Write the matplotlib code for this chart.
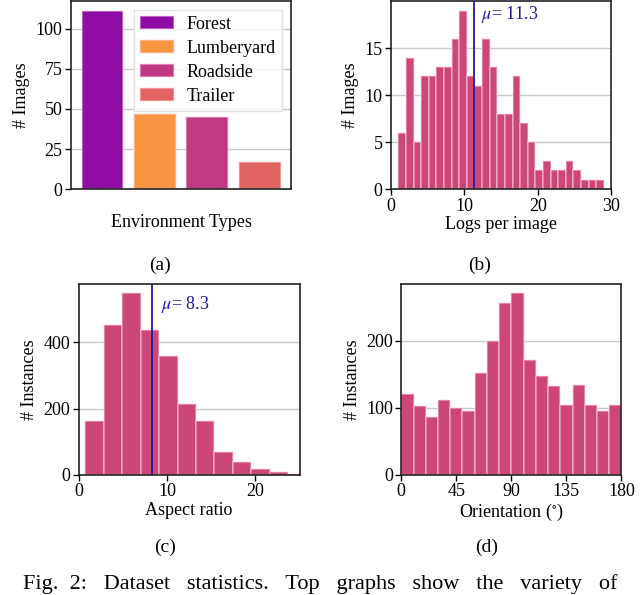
import numpy as np
import matplotlib
matplotlib.use('Agg')
import matplotlib.pyplot as plt

plt.rcParams['font.family'] = ['Liberation Serif', 'DejaVu Serif']
plt.rcParams['mathtext.fontset'] = 'stix'
plt.rcParams['font.size'] = 13

# (a) environment types
env_types = ['Forest', 'Lumberyard', 'Roadside', 'Trailer']
env_counts = [111, 47, 45, 17]
env_colors = ['#8f0da4', '#f89540', '#c03a83', '#e16462']

# (b) logs per image histogram
logs_edges = np.linspace(1, 29, 28)
logs_counts = [6, 14, 5, 12, 12, 13, 13, 16, 19, 12, 11, 16, 13, 8, 8, 12, 7, 5,
               2, 3, 2, 2, 3, 2, 1, 1, 1]
logs_mean = 11.3

# (c) aspect ratio histogram
ar_edges = np.linspace(0.76, 25.8, 13)
ar_counts = [162, 451, 547, 437, 357, 215, 162, 70, 40, 19, 10, 4]
ar_mean = 8.3

# (d) orientation histogram
or_edges = np.arange(0, 190, 10)
or_counts = [121, 103, 86, 112, 100, 95, 152, 200, 257, 271, 171, 147, 133, 105,
             134, 105, 95, 105]

hist_color = '#cc4778'
edge_col = (1, 0.85, 0.92, 0.5)
mean_color = '#1f1aa0'


def style(ax):
    ax.set_axisbelow(True)
    ax.yaxis.grid(True, color='#c8c8c8', linewidth=1)
    ax.tick_params(direction='out', length=4, width=1, labelsize=13, pad=2)
    for s in ax.spines.values():
        s.set_color('#222222')
        s.set_linewidth(1.2)


def hist(ax, edges, counts):
    ax.bar(edges[:-1], counts, width=np.diff(edges), align='edge',
           color=hist_color, edgecolor=edge_col, linewidth=1.2)


fig = plt.figure(figsize=(6.4, 5.95), dpi=100)

# (a)
ax = fig.add_axes([0.111, 0.682, 0.344, 0.316])
style(ax)
xs = np.arange(len(env_types))
bars = ax.bar(xs, env_counts, width=0.8, color=env_colors, edgecolor=edge_col,
              linewidth=1.2)
for b, lab in zip(bars, env_types):
    b.set_label(lab)
ax.set_xlim(-0.6, 3.6)
ax.set_ylim(0, 117)
ax.set_yticks([0, 25, 50, 75, 100])
ax.set_xticks([])
ax.set_ylabel('# Images', fontsize=13, labelpad=4)
ax.set_xlabel('Environment Types', fontsize=13, labelpad=18)
leg = ax.legend(loc='upper right', fontsize=13, frameon=True, fancybox=False,
                handlelength=1.9, handleheight=0.75, handletextpad=0.7,
                borderpad=0.35, labelspacing=0.38, borderaxespad=0,
                bbox_to_anchor=(0.96, 0.955))
leg.get_frame().set_edgecolor('#dddddd')
leg.get_frame().set_linewidth(1)

# (b)
ax = fig.add_axes([0.611, 0.682, 0.344, 0.316])
style(ax)
hist(ax, logs_edges, logs_counts)
ax.axvline(logs_mean, color=mean_color, linewidth=1.3)
ax.text(logs_mean + 1, 19.7, r'$\mu$= %.1f' % logs_mean, color=mean_color,
        fontsize=13, va='top')
ax.set_xlim(0, 30)
ax.set_ylim(0, 20)
ax.set_xticks([0, 10, 20, 30])
ax.set_yticks([0, 5, 10, 15])
ax.set_ylabel('# Images', fontsize=13, labelpad=4)
ax.set_xlabel('Logs per image', fontsize=13, labelpad=1)

# (c)
ax = fig.add_axes([0.123, 0.2017, 0.345, 0.321])
style(ax)
hist(ax, ar_edges, ar_counts)
ax.axvline(ar_mean, color=mean_color, linewidth=1.3)
ax.text(ar_mean + 1, 545, r'$\mu$= %.1f' % ar_mean, color=mean_color,
        fontsize=13, va='top')
ax.set_xlim(0, 25)
ax.set_ylim(0, 575)
ax.set_xticks([0, 10, 20])
ax.set_yticks([0, 200, 400])
ax.set_ylabel('# Instances', fontsize=13, labelpad=4)
ax.set_xlabel('Aspect ratio', fontsize=13, labelpad=1)

# (d)
ax = fig.add_axes([0.627, 0.2017, 0.344, 0.321])
style(ax)
hist(ax, or_edges, or_counts)
ax.set_xlim(0, 180)
ax.set_ylim(0, 285)
ax.set_xticks([0, 45, 90, 135, 180])
ax.set_yticks([0, 100, 200])
ax.set_ylabel('# Instances', fontsize=13, labelpad=4)
ax.set_xlabel(r'Orientation ($^{\circ}$)', fontsize=13, labelpad=1)

# subfigure labels and caption
fig.text(160 / 640, 1 - 265 / 595, '(a)', ha='center', va='center', fontsize=14)
fig.text(480 / 640, 1 - 265 / 595, '(b)', ha='center', va='center', fontsize=14)
fig.text(165 / 640, 1 - 547 / 595, '(c)', ha='center', va='center', fontsize=14)
fig.text(487 / 640, 1 - 547 / 595, '(d)', ha='center', va='center', fontsize=14)
fig.text(0.5, 0.002,
         'Fig.  2:   Dataset   statistics.   Top   graphs   show   the   variety   of',
         ha='center', va='bottom', fontsize=16)

fig.savefig('out.png', dpi=100)
